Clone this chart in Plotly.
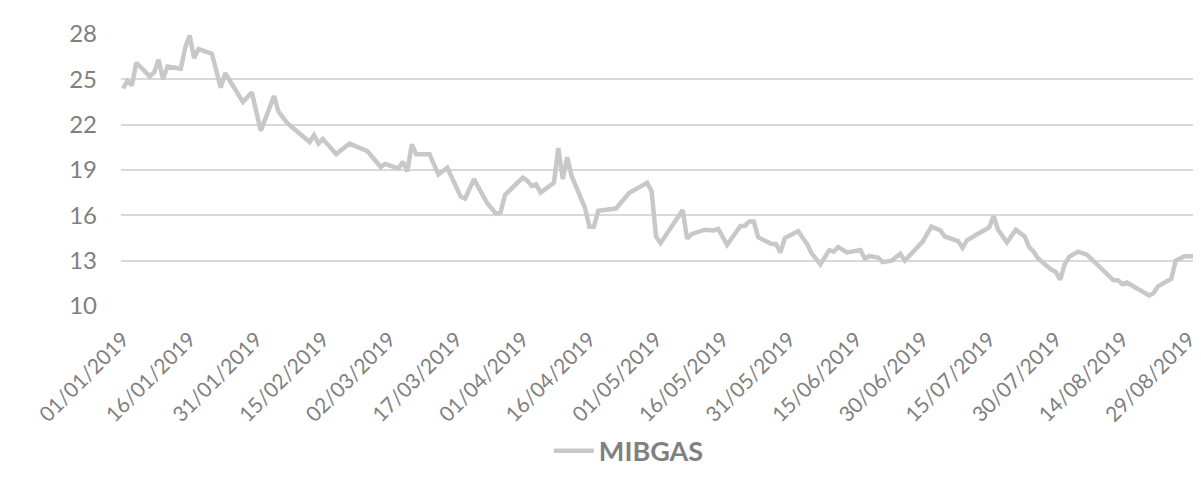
import plotly.graph_objects as go
import pandas as pd

dates = [
    "2019-01-01", "2019-01-02", "2019-01-03", "2019-01-04", "2019-01-07", "2019-01-08",
    "2019-01-09", "2019-01-10", "2019-01-11", "2019-01-14", "2019-01-15", "2019-01-16",
    "2019-01-17", "2019-01-18", "2019-01-21", "2019-01-23", "2019-01-24", "2019-01-26",
    "2019-01-28", "2019-01-30", "2019-02-01", "2019-02-04", "2019-02-05", "2019-02-07",
    "2019-02-10", "2019-02-12", "2019-02-13", "2019-02-14", "2019-02-15", "2019-02-18",
    "2019-02-21", "2019-02-25", "2019-02-28", "2019-03-01", "2019-03-04", "2019-03-05",
    "2019-03-06", "2019-03-07", "2019-03-08", "2019-03-11", "2019-03-13", "2019-03-15",
    "2019-03-18", "2019-03-19", "2019-03-21", "2019-03-24", "2019-03-26", "2019-03-27",
    "2019-03-28", "2019-04-01", "2019-04-02", "2019-04-03", "2019-04-04", "2019-04-05",
    "2019-04-08", "2019-04-09", "2019-04-10", "2019-04-11", "2019-04-12", "2019-04-15",
    "2019-04-16", "2019-04-17", "2019-04-18", "2019-04-22", "2019-04-25", "2019-04-29",
    "2019-04-30", "2019-05-01", "2019-05-02", "2019-05-07", "2019-05-08", "2019-05-09",
    "2019-05-12", "2019-05-14", "2019-05-15", "2019-05-17", "2019-05-20", "2019-05-21",
    "2019-05-22", "2019-05-23", "2019-05-24", "2019-05-27", "2019-05-28", "2019-05-29",
    "2019-05-30", "2019-05-31", "2019-06-02", "2019-06-04", "2019-06-05", "2019-06-07",
    "2019-06-09", "2019-06-10", "2019-06-11", "2019-06-13", "2019-06-16", "2019-06-17",
    "2019-06-18", "2019-06-20", "2019-06-21", "2019-06-23", "2019-06-25", "2019-06-26",
    "2019-06-28", "2019-06-30", "2019-07-02", "2019-07-04", "2019-07-05", "2019-07-08",
    "2019-07-09", "2019-07-10", "2019-07-12", "2019-07-15", "2019-07-16", "2019-07-17",
    "2019-07-19", "2019-07-21", "2019-07-23", "2019-07-24", "2019-07-25", "2019-07-26",
    "2019-07-29", "2019-07-30", "2019-07-31", "2019-08-01", "2019-08-02", "2019-08-04",
    "2019-08-06", "2019-08-09", "2019-08-12", "2019-08-13", "2019-08-14", "2019-08-15",
    "2019-08-18", "2019-08-20", "2019-08-21", "2019-08-22", "2019-08-25", "2019-08-26",
    "2019-08-28", "2019-08-30",
]

mibgas = [
    24.4, 24.9, 24.6, 26.1, 25.2, 25.45,
    26.3, 25.0, 25.85, 25.7, 27.1, 27.9,
    26.4, 27.0, 26.7, 24.45, 25.4, 24.4,
    23.5, 24.15, 21.6, 23.9, 22.85, 22.1,
    21.4, 20.85, 21.3, 20.75, 21.05, 20.05,
    20.75, 20.25, 19.2, 19.4, 19.1, 19.55,
    18.9, 20.7, 20.05, 20.05, 18.7, 19.15,
    17.25, 17.1, 18.4, 16.8, 16.1, 16.2,
    17.35, 18.5, 18.3, 17.95, 18.05, 17.5,
    18.15, 20.45, 18.4, 19.85, 18.6, 16.5,
    15.25, 15.25, 16.3, 16.45, 17.5, 18.15,
    17.6, 14.6, 14.15, 16.35, 14.45, 14.75,
    15.05, 15.0, 15.1, 14.05, 15.3, 15.3,
    15.6, 15.6, 14.55, 14.1, 14.1, 13.55,
    14.5, 14.65, 14.95, 14.1, 13.5, 12.75,
    13.7, 13.6, 13.9, 13.55, 13.7, 13.15,
    13.3, 13.2, 12.9, 13.0, 13.45, 13.0,
    13.6, 14.25, 15.25, 15.0, 14.6, 14.3,
    13.85, 14.35, 14.7, 15.2, 15.95, 15.05,
    14.2, 15.05, 14.6, 13.9, 13.6, 13.15,
    12.4, 12.25, 11.75, 12.75, 13.25, 13.6,
    13.4, 12.5, 11.7, 11.7, 11.45, 11.55,
    11.05, 10.7, 10.85, 11.3, 11.8, 13.0,
    13.3, 13.3,
]

y_ticks = [10, 13, 16, 19, 22, 25, 28]
x_tick_dates = pd.date_range("2019-01-01", "2019-08-29", freq="15D")
x_tick_text = [d.strftime("%d/%m/%Y") for d in x_tick_dates]

FONT = "Lato"
GREY = "#808080"

fig = go.Figure()
fig.add_trace(go.Scatter(
    x=pd.to_datetime(dates), y=mibgas, mode="lines", name="MIBGAS",
    line=dict(color="#c8c8c8", width=4.5),
))

fig.update_layout(
    width=1201, height=478,
    margin=dict(l=113, r=10, t=22, b=167),
    plot_bgcolor="white", paper_bgcolor="white",
    font=dict(family=FONT, color=GREY),
    showlegend=True,
    legend=dict(orientation="h", x=0.472, xanchor="center", y=-0.534, yanchor="middle",
                font=dict(family=FONT, size=27, color=GREY, weight="bold"),
                itemwidth=40),
    xaxis=dict(
        type="date",
        range=["2018-12-31 13:00", "2019-08-30 19:00"],
        tickvals=list(x_tick_dates), ticktext=x_tick_text,
        tickangle=-45, tickfont=dict(size=21, color=GREY, family=FONT),
        showgrid=False, zeroline=False, showline=False, ticks="",
        ticklabelstandoff=16,
    ),
    yaxis=dict(
        range=[10, 28], tickvals=y_ticks,
        tickfont=dict(size=24, color=GREY, family=FONT),
        showgrid=True, gridcolor="#d9d9d9", gridwidth=1.5,
        zeroline=False, showline=False, ticks="", ticklabelstandoff=23,
    ),
)

fig.write_html("out.html")
